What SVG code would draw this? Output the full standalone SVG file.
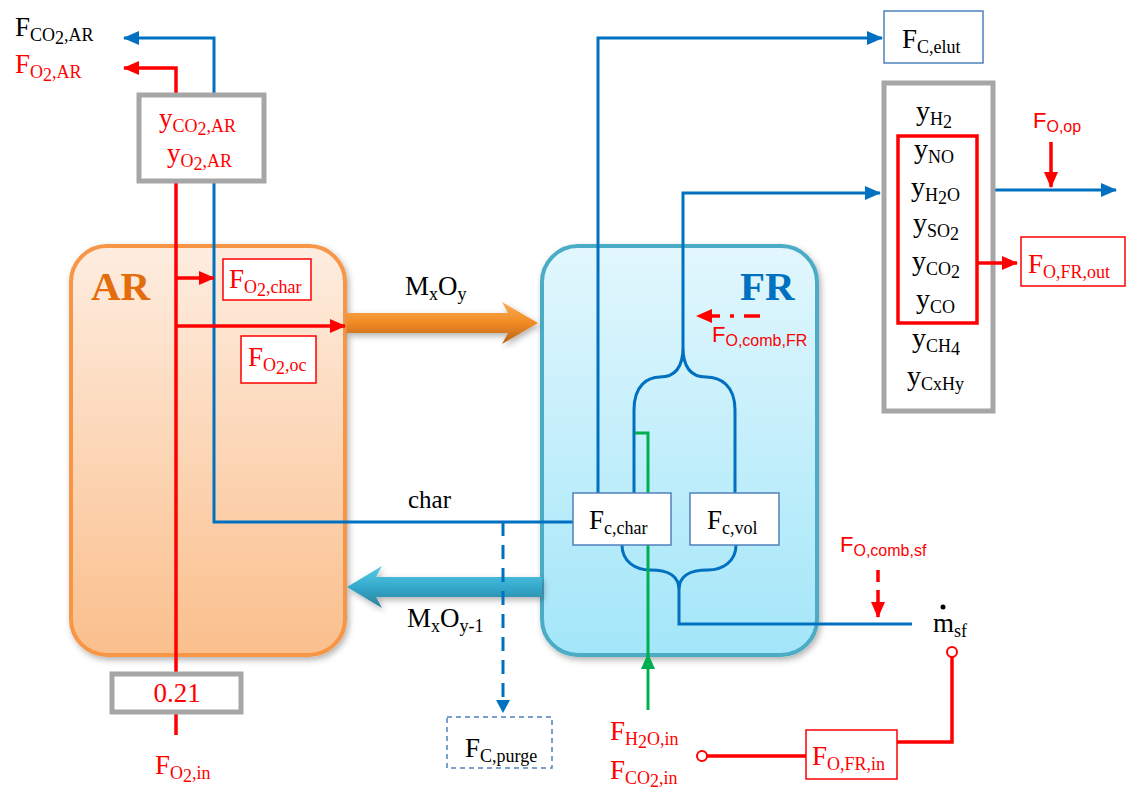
<svg xmlns="http://www.w3.org/2000/svg" width="1126" height="792" viewBox="0 0 1126 792">
<style>
.t{font-family:"Liberation Serif",serif;font-size:27px;fill:#000}
.r{fill:#FF0000}
.sa{font-family:"Liberation Sans",sans-serif;font-size:22px;fill:#FF0000}
.sub{font-size:18px}
.ln{fill:none;stroke-linejoin:miter}
.red{stroke:#FF0000;stroke-width:3.5}
.blue{stroke:#0070C0;stroke-width:3}
.green{stroke:#00B050;stroke-width:3}
.gbox{fill:#fff;stroke:#A6A6A6;stroke-width:5}
.rbox{fill:#fff;stroke:#FF0000;stroke-width:1.5}
.bbox{fill:#fff;stroke:#4F81BD;stroke-width:1.5}
.y{font-size:28px}
</style>
<defs>
<linearGradient id="gAR" x1="0" y1="0" x2="0" y2="1"><stop offset="0" stop-color="#FEEDE0"/><stop offset="1" stop-color="#FABF8C"/></linearGradient>
<linearGradient id="gFR" x1="0" y1="0" x2="0" y2="1"><stop offset="0" stop-color="#E2F7FD"/><stop offset="1" stop-color="#A3E6F9"/></linearGradient>
<linearGradient id="gOr" x1="0" y1="0" x2="0" y2="1"><stop offset="0" stop-color="#FBAE55"/><stop offset="0.5" stop-color="#F08A24"/><stop offset="1" stop-color="#B8641A"/></linearGradient>
<linearGradient id="gTe" x1="0" y1="0" x2="0" y2="1"><stop offset="0" stop-color="#5ACBE6"/><stop offset="0.5" stop-color="#34A9CC"/><stop offset="1" stop-color="#2A7F99"/></linearGradient>
<filter id="sh" x="-10%" y="-10%" width="120%" height="120%"><feDropShadow dx="2" dy="3" stdDeviation="3" flood-color="#000" flood-opacity="0.3"/></filter>
<marker id="aR" markerUnits="userSpaceOnUse" markerWidth="16" markerHeight="14" refX="15" refY="7" orient="auto"><path d="M0,0 L16,7 L0,14 Z" fill="#FF0000"/></marker>
<marker id="aB" markerUnits="userSpaceOnUse" markerWidth="16" markerHeight="14" refX="15" refY="7" orient="auto"><path d="M0,0 L16,7 L0,14 Z" fill="#0070C0"/></marker>
<marker id="aG" markerUnits="userSpaceOnUse" markerWidth="16" markerHeight="14" refX="15" refY="7" orient="auto"><path d="M0,0 L16,7 L0,14 Z" fill="#00B050"/></marker>
</defs>

<g id="AR">
<rect x="71" y="246" width="274" height="409" rx="36" fill="url(#gAR)" stroke="#F79646" stroke-width="4" filter="url(#sh)"/>
<text x="91" y="300" style="font-family:'Liberation Serif',serif;font-size:41px;font-weight:bold;fill:#E46C0A">AR</text>
</g>
<g id="FR">
<rect x="542" y="246" width="275" height="409" rx="36" fill="url(#gFR)" stroke="#4BACC6" stroke-width="4" filter="url(#sh)"/>
<text x="740" y="300" style="font-family:'Liberation Serif',serif;font-size:41px;font-weight:bold;fill:#0070C0">FR</text>
</g>

<g id="solid-arrows">
<path d="M347,313 L508,313 L502,302 L538,323 L502,344 L508,333 L347,333 Z" fill="url(#gOr)" filter="url(#sh)"/>
<path d="M542,577 L376,577 L382,566 L347,587 L382,608 L376,597 L542,597 Z" fill="url(#gTe)" filter="url(#sh)"/>
</g>

<g id="connectors">
<path class="ln red" d="M176,735 L176,68 L124,68" marker-end="url(#aR)"/>
<path class="ln blue" d="M573,522 L214,522 L214,38 L124,38" marker-end="url(#aB)"/>
<path class="ln red" d="M176,278 L214,278" marker-end="url(#aR)"/>
<path class="ln red" d="M176,326 L345,326" marker-end="url(#aR)"/>
<path class="ln blue" d="M503,522 L503,708" stroke-dasharray="14,9"/>
<path d="M496,700 L510,700 L503,713 Z" fill="#0070C0"/>
<path class="ln blue" d="M598,493 L598,38 L882,38" marker-end="url(#aB)"/>
<path class="ln blue" d="M683,347 L683,193 L880,193" marker-end="url(#aB)"/>
<path class="ln blue" d="M634,493 L634,410 C634,385 648,377 660,377 C674,377 683,368 683,347 C683,368 692,377 706,377 C720,377 735,385 735,410 L735,493"/>
<path class="ln blue" d="M622,545 C622,562 636,570 650,570 C668,570 679,575 679,590 L679,624 L912,624 M736,545 C736,562 722,570 708,570 C690,570 679,575 679,590"/>
<path class="ln green" d="M635,433 L648,433 L648,655"/>
<path class="ln green" d="M648,710 L648,654" marker-end="url(#aG)"/>
<path class="ln red" d="M760,316 L697,316" stroke-dasharray="16,10,4,10" marker-end="url(#aR)" stroke-width="3"/>
<path class="ln red" d="M878,570 L878,617" stroke-dasharray="12,8" stroke-width="3" marker-end="url(#aR)"/>
<path class="ln blue" d="M994,190 L1116,190" marker-end="url(#aB)"/>
<path class="ln red" d="M1051,142 L1051,187" stroke-width="3" marker-end="url(#aR)"/>
<path class="ln red" d="M952,657 L952,742 L897,742 M806,756 L707,756" stroke-width="2"/>
<circle cx="952" cy="652" r="5" fill="#fff" stroke="#FF0000" stroke-width="2"/>
<circle cx="702" cy="756" r="5" fill="#fff" stroke="#FF0000" stroke-width="2"/>
</g>

<g id="label-FCO2AR"><text class="t" x="15" y="36">F<tspan class="sub" dy="5">CO</tspan><tspan class="sub" dy="3">2</tspan><tspan class="sub" dy="-3">,AR</tspan></text></g>
<g id="label-FO2AR"><text class="t r" x="15" y="73">F<tspan class="sub" dy="5">O</tspan><tspan class="sub" dy="3">2</tspan><tspan class="sub" dy="-3">,AR</tspan></text></g>

<g id="box-yAR">
<rect class="gbox" x="139" y="95" width="125" height="86"/>
<text class="t r" x="159" y="127">y<tspan class="sub" dy="5">CO</tspan><tspan class="sub" dy="3">2</tspan><tspan class="sub" dy="-3">,AR</tspan></text>
<text class="t r" x="167" y="162">y<tspan class="sub" dy="5">O</tspan><tspan class="sub" dy="3">2</tspan><tspan class="sub" dy="-3">,AR</tspan></text>
</g>

<g id="box-FO2char">
<rect class="rbox" x="223" y="259" width="88" height="41"/>
<text class="t r" x="229" y="288">F<tspan class="sub" dy="5">O</tspan><tspan class="sub" dy="3">2</tspan><tspan class="sub" dy="-3">,char</tspan></text>
</g>
<g id="box-FO2oc">
<rect class="rbox" x="241" y="336" width="75" height="47"/>
<text class="t r" x="248" y="366">F<tspan class="sub" dy="5">O</tspan><tspan class="sub" dy="3">2</tspan><tspan class="sub" dy="-3">,oc</tspan></text>
</g>

<g id="label-MxOy"><text class="t" x="405" y="295">M<tspan class="sub" dy="5">x</tspan><tspan dy="-5">O</tspan><tspan class="sub" dy="5">y</tspan></text></g>
<g id="label-char"><text class="t" x="408" y="508" style="font-size:25px">char</text></g>
<g id="label-MxOy1"><text class="t" x="407" y="627">M<tspan class="sub" dy="5">x</tspan><tspan dy="-5">O</tspan><tspan class="sub" dy="5">y-1</tspan></text></g>

<g id="box-021">
<rect class="gbox" x="112" y="674" width="129" height="38"/>
<text class="t r" x="177" y="702" text-anchor="middle">0.21</text>
</g>
<g id="label-FO2in"><text class="t r" x="155" y="774">F<tspan class="sub" dy="5">O</tspan><tspan class="sub" dy="3">2</tspan><tspan class="sub" dy="-3">,in</tspan></text></g>

<g id="box-Fpurge">
<rect x="447" y="717" width="105" height="51" fill="#fff" stroke="#4F81BD" stroke-width="1.5" stroke-dasharray="5,4"/>
<text class="t" x="465" y="757">F<tspan class="sub" dy="5">C,purge</tspan></text>
</g>

<g id="label-FH2Oin">
<text class="t r" x="610" y="740">F<tspan class="sub" dy="5">H</tspan><tspan class="sub" dy="3">2</tspan><tspan class="sub" dy="-3">O,in</tspan></text>
<text class="t r" x="610" y="779">F<tspan class="sub" dy="5">CO</tspan><tspan class="sub" dy="3">2</tspan><tspan class="sub" dy="-3">,in</tspan></text>
</g>

<g id="box-FOFRin">
<rect class="rbox" x="806" y="730" width="91" height="49"/>
<text class="t r" x="812" y="765">F<tspan class="sub" dy="5">O,FR,in</tspan></text>
</g>

<g id="box-Fcchar">
<rect class="bbox" x="573" y="493" width="98" height="52"/>
<text class="t" x="589" y="529">F<tspan class="sub" dy="5">c,char</tspan></text>
</g>
<g id="box-Fcvol">
<rect class="bbox" x="690" y="493" width="89" height="52"/>
<text class="t" x="707" y="529">F<tspan class="sub" dy="5">c,vol</tspan></text>
</g>

<g id="label-FOcombFR"><text class="sa" x="712" y="342">F<tspan style="font-size:16px" dy="4">O,comb,FR</tspan></text></g>
<g id="label-FOcombsf"><text class="sa" x="840" y="552">F<tspan style="font-size:16px" dy="4">O,comb,sf</tspan></text></g>

<g id="label-msf">
<text class="t" x="933" y="632">m<tspan class="sub" dy="5">sf</tspan></text>
<circle cx="943" cy="607" r="2.5" fill="#000"/>
</g>

<g id="box-FCelut">
<rect class="bbox" x="884" y="11" width="99" height="52"/>
<text class="t" x="902" y="48">F<tspan class="sub" dy="5">C,elut</tspan></text>
</g>

<g id="box-gas">
<rect class="gbox" x="884" y="83" width="109" height="328"/>
<rect x="898" y="136" width="79" height="187" fill="none" stroke="#FF0000" stroke-width="3.5"/>
<text class="t y" x="916" y="120">y<tspan class="sub" dy="5">H</tspan><tspan class="sub" dy="3">2</tspan></text>
<text class="t y" x="914" y="158">y<tspan class="sub" dy="5">NO</tspan></text>
<text class="t y" x="911" y="196">y<tspan class="sub" dy="5">H</tspan><tspan class="sub" dy="3">2</tspan><tspan class="sub" dy="-3">O</tspan></text>
<text class="t y" x="913" y="232">y<tspan class="sub" dy="5">SO</tspan><tspan class="sub" dy="3">2</tspan></text>
<text class="t y" x="912" y="270">y<tspan class="sub" dy="5">CO</tspan><tspan class="sub" dy="3">2</tspan></text>
<text class="t y" x="916" y="308">y<tspan class="sub" dy="5">CO</tspan></text>
<text class="t y" x="912" y="347">y<tspan class="sub" dy="5">CH</tspan><tspan class="sub" dy="3">4</tspan></text>
<text class="t y" x="907" y="385">y<tspan class="sub" dy="5">CxHy</tspan></text>
</g>
<g id="arrow-FOFRout"><path class="ln red" d="M977,263 L1017,263" marker-end="url(#aR)"/></g>

<g id="label-FOop"><text class="sa" x="1033" y="128">F<tspan style="font-size:16px" dy="4">O,op</tspan></text></g>
<g id="box-FOFRout">
<rect class="rbox" x="1021" y="237" width="104" height="49"/>
<text class="t r" x="1028" y="273">F<tspan class="sub" dy="5">O,FR,out</tspan></text>
</g>
</svg>
